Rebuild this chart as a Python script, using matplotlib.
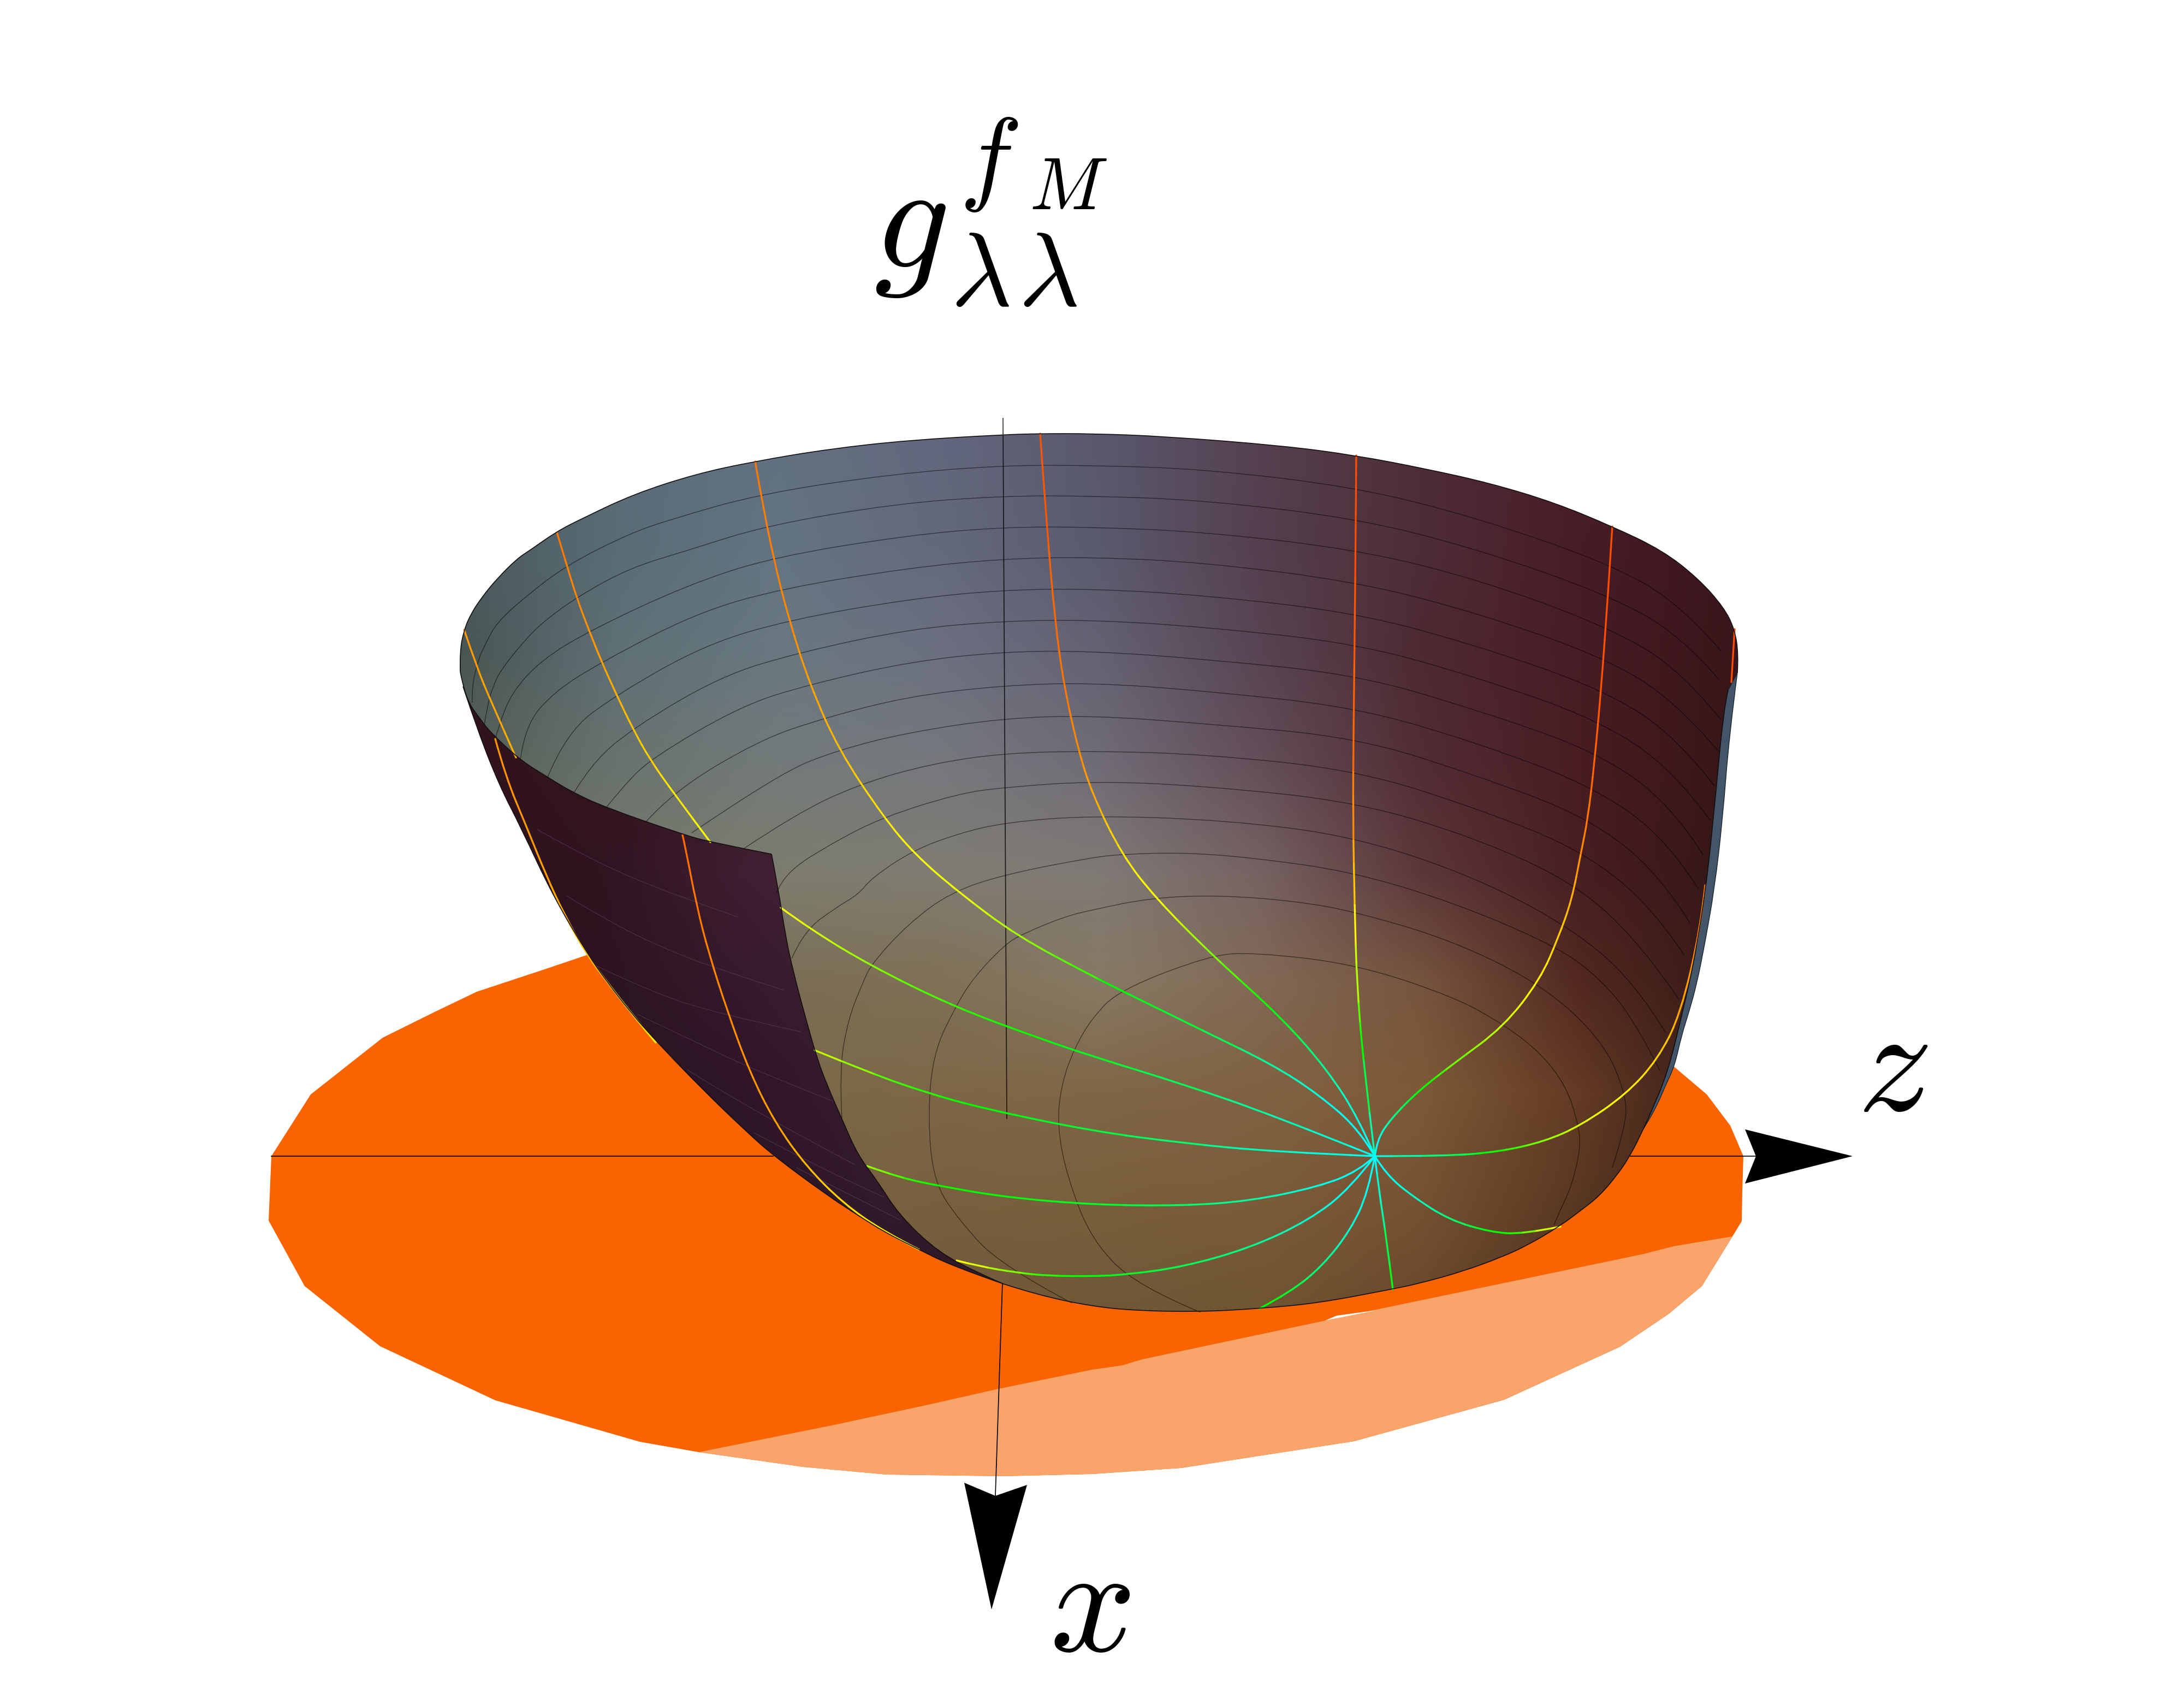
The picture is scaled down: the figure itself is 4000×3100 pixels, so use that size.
import numpy as np
from matplotlib import pyplot as plt
from matplotlib.collections import LineCollection
from matplotlib.colors import hsv_to_rgb
from matplotlib.patches import PathPatch, Polygon
from matplotlib.path import Path

plt.rcParams['mathtext.fontset'] = 'cm'

disc_outline = [(497, 2117), (492, 2235), (558, 2355), (696, 2465), (907, 2564), (1172, 2640), (1280, 2659),
                (1471, 2686), (1624, 2700), (1837, 2703), (2000, 2699), (2163, 2688), (2480, 2639), (2755, 2563),
                (2967, 2466), (3056, 2406), (3117, 2355), (3173, 2264), (3190, 2236), (3191, 2183), (3193, 2117),
                (3169, 2061), (3126, 2004), (3067, 1954), (2900, 1800), (1300, 1700), (1077, 1748), (1000, 1774),
                (873, 1816), (800, 1851), (701, 1900), (569, 2004)]
disc_light = [(1280, 2659), (1533, 2608), (1696, 2573), (1829, 2543), (2000, 2508), (2056, 2500), (2092, 2489),
              (2423, 2419), (2530, 2396), (3011, 2296), (3065, 2282), (3173, 2264), (3117, 2355), (3056, 2406),
              (2967, 2466), (2755, 2563), (2480, 2639), (2163, 2688), (2000, 2699), (1837, 2703), (1624, 2700),
              (1471, 2686)]
disc_gap = [(2427, 2418), (2448, 2409), (2522, 2399)]

arrow_z = [(3196, 2068), (3393, 2117), (3196, 2167), (3216, 2117)]
arrow_x = [(1766, 2715), (1823, 2739), (1881, 2719), (1816, 2947)]
axis_z = [[(497, 2117), (1416, 2117)], [(2986, 2117), (3216, 2117)]]
axis_x = [(1836, 2349), (1823, 2739)]
axis_y = [(1837, 766), (1844, 2048)]

rim = [(843, 1230), (842, 1193), (850, 1153), (863, 1123), (883, 1093), (910, 1060), (947, 1023), (970, 1008),
       (1020, 973), (1065, 950), (1160, 905), (1274, 868), (1381, 845), (1519, 822), (1665, 806), (1837, 796),
       (1905, 794), (2000, 794), (2133, 799), (2348, 816), (2484, 834), (2614, 859), (2730, 885), (2846, 920),
       (2953, 964), (3045, 1008), (3111, 1060), (3157, 1112), (3177, 1152), (3184, 1198), (3182, 1232)]
inner_right = [(3165, 1264), (3157, 1295), (3138, 1500), (3124, 1628), (3108, 1730), (3094, 1800), (3080, 1859),
               (3063, 1930), (3047, 1982), (3027, 2029), (3011, 2065), (2986, 2116), (2960, 2154), (2928, 2191),
               (2897, 2215), (2857, 2245), (2798, 2280), (2750, 2302), (2679, 2328), (2600, 2350), (2547, 2361),
               (2415, 2386), (2307, 2396), (2199, 2402), (2083, 2400), (2000, 2392), (1900, 2371), (1838, 2351)]
flap_right = [(1838, 2351), (1798, 2334), (1718, 2293), (1646, 2224), (1608, 2164), (1571, 2115), (1542, 2049),
              (1517, 1992), (1497, 1940), (1476, 1866), (1453, 1780), (1439, 1716), (1425, 1625), (1413, 1564)]
lip = [(1413, 1564), (1301, 1542), (1251, 1528), (1110, 1479), (1047, 1450), (1003, 1423), (953, 1392), (897, 1340),
       (877, 1313), (860, 1290), (848, 1257), (843, 1230)]
flap_outer = [(1838, 2351), (1746, 2319), (1677, 2285), (1620, 2256), (1574, 2227), (1517, 2190), (1419, 2118),
              (1367, 2072), (1287, 1995), (1207, 1912), (1155, 1854), (1109, 1794), (1077, 1748), (1014, 1643),
              (953, 1513), (915, 1439), (876, 1341), (848, 1257)]
sliver_outer = [(3182, 1232), (3167, 1347), (3155, 1500), (3140, 1628), (3122, 1730), (3108, 1800), (3094, 1851),
                (3080, 1895), (3067, 1952), (3051, 1986), (3031, 2033), (3011, 2065)]

surface_x = [840, 1134, 1428, 1721, 2015, 2309, 2603, 2896, 3190]
surface_y = [800, 1000, 1200, 1400, 1600, 1800, 2000, 2200, 2400]
surface_rgb = [
    [(72, 88, 95), (90, 108, 120), (98, 113, 130), (98, 103, 125), (90, 88, 110), (85, 65, 80), (78, 45, 55), (72, 30, 40), (60, 24, 30)],
    [(72, 88, 92), (90, 108, 118), (100, 116, 130), (100, 105, 125), (90, 90, 110), (85, 63, 78), (78, 45, 55), (72, 28, 38), (58, 22, 28)],
    [(72, 85, 82), (95, 112, 118), (105, 120, 128), (108, 112, 128), (100, 98, 115), (88, 68, 82), (78, 42, 50), (72, 28, 36), (56, 22, 26)],
    [(85, 95, 85), (105, 115, 110), (115, 122, 122), (118, 120, 125), (112, 108, 118), (100, 78, 88), (82, 45, 52), (72, 28, 34), (55, 22, 24)],
    [(100, 105, 90), (118, 120, 105), (125, 125, 110), (128, 125, 115), (128, 122, 118), (118, 98, 98), (92, 55, 58), (72, 30, 33), (52, 22, 22)],
    [(110, 105, 85), (120, 112, 90), (122, 110, 85), (128, 112, 85), (135, 122, 100), (130, 105, 85), (118, 85, 62), (82, 40, 32), (52, 25, 22)],
    [(120, 105, 72), (122, 105, 75), (122, 105, 72), (125, 103, 72), (128, 102, 70), (128, 98, 66), (125, 90, 55), (100, 58, 36), (50, 28, 22)],
    [(118, 100, 70), (120, 100, 68), (118, 98, 65), (120, 96, 62), (122, 95, 60), (122, 92, 58), (118, 82, 50), (88, 55, 32), (50, 28, 22)],
    [(112, 92, 62), (112, 92, 60), (112, 92, 60), (112, 90, 58), (112, 88, 55), (112, 85, 50), (104, 72, 42), (75, 48, 30), (50, 28, 22)],
]
flap_x = [850, 1100, 1350, 1600, 1850]
flap_y = [1250, 1600, 1950, 2300]
flap_rgb = [
    [(50, 20, 30), (55, 22, 32), (60, 25, 38), (65, 30, 45), (65, 30, 45)],
    [(45, 18, 28), (48, 20, 32), (62, 30, 48), (70, 38, 58), (70, 38, 58)],
    [(42, 20, 30), (42, 20, 32), (48, 22, 40), (58, 28, 50), (58, 28, 50)],
    [(40, 22, 30), (40, 22, 30), (42, 20, 32), (48, 24, 42), (50, 28, 40)],
]

rings = [
    [(865, 1287), (864, 1260), (875, 1210), (890, 1177), (910, 1140), (957, 1097), (1037, 1035), (1153, 977), (1228, 951), (1393, 904), (1634, 868), (1837, 852), (2000, 852), (2207, 859), (2484, 892), (2705, 948), (2945, 1031), (3078, 1106), (3152, 1192)],
    [(887, 1327), (893, 1290), (902, 1260), (915, 1230), (957, 1177), (993, 1140), (1057, 1093), (1153, 1040), (1259, 1008), (1404, 962), (1642, 922), (1837, 908), (2000, 908), (2207, 916), (2484, 949), (2705, 1005), (2945, 1089), (3078, 1163), (3148, 1244)],
    [(907, 1353), (915, 1324), (938, 1267), (991, 1209), (1079, 1155), (1259, 1071), (1416, 1020), (1664, 980), (1837, 965), (2000, 965), (2207, 974), (2484, 1006), (2705, 1060), (2941, 1146), (3078, 1226), (3152, 1318)],
    [(953, 1392), (961, 1330), (1014, 1267), (1102, 1212), (1274, 1123), (1429, 1078), (1664, 1040), (1837, 1023), (2000, 1020), (2207, 1030), (2484, 1065), (2705, 1122), (2937, 1203), (3069, 1284), (3148, 1376)],
    [(1003, 1423), (1037, 1341), (1129, 1272), (1290, 1181), (1445, 1135), (1664, 1097), (1837, 1080), (2000, 1078), (2207, 1090), (2484, 1122), (2705, 1182), (2933, 1261), (3069, 1347), (3140, 1439)],
    [(1052, 1450), (1083, 1399), (1156, 1335), (1320, 1238), (1462, 1195), (1664, 1152), (1837, 1137), (2000, 1135), (2207, 1148), (2484, 1178), (2705, 1240), (2928, 1318), (3065, 1410), (3132, 1502)],
    [(1110, 1479), (1137, 1445), (1190, 1390), (1358, 1292), (1483, 1253), (1664, 1212), (1837, 1193), (2000, 1192), (2207, 1207), (2484, 1235), (2705, 1300), (2924, 1376), (3061, 1473), (3119, 1565)],
    [(1183, 1505), (1232, 1450), (1389, 1356), (1508, 1315), (1664, 1275), (1837, 1255), (2000, 1250), (2207, 1265), (2484, 1295), (2705, 1360), (2916, 1439), (3053, 1536), (3111, 1628)],
    [(1267, 1525), (1427, 1416), (1536, 1373), (1664, 1341), (1837, 1315), (2000, 1310), (2207, 1325), (2484, 1350), (2705, 1420), (2908, 1496), (3040, 1600), (3095, 1690)],
    [(1362, 1554), (1458, 1490), (1573, 1436), (1703, 1399), (1837, 1379), (2000, 1375), (2207, 1381), (2484, 1410), (2705, 1480), (2900, 1558), (3030, 1665), (3085, 1750)],
    [(1423, 1634), (1435, 1600), (1527, 1542), (1618, 1496), (1756, 1453), (1837, 1442), (2000, 1430), (2207, 1439), (2484, 1468), (2705, 1535), (2890, 1620), (3010, 1735), (3075, 1830)],
    [(1450, 1755), (1473, 1704), (1534, 1660), (1573, 1637), (1596, 1608), (1672, 1557), (1756, 1526), (1840, 1506), (2000, 1493), (2249, 1502), (2478, 1531), (2700, 1605), (2880, 1700), (2995, 1800), (3050, 1890)],
    [(1542, 2049), (1537, 1959), (1554, 1864), (1580, 1800), (1596, 1765), (1664, 1691), (1741, 1634), (1840, 1601), (2000, 1570), (2058, 1564), (2166, 1561), (2290, 1570), (2477, 1596), (2663, 1653), (2829, 1723), (2912, 1774), (2990, 1860), (3040, 1960)],
    [(1963, 2386), (1833, 2317), (1756, 2234), (1710, 2164), (1699, 2042), (1710, 1927), (1749, 1845), (1783, 1790), (1840, 1730), (1871, 1711), (1948, 1679), (2000, 1666), (2108, 1644), (2232, 1639), (2373, 1650), (2481, 1669), (2663, 1723), (2829, 1806), (2937, 1908), (2978, 2004), (2978, 2061), (2953, 2138)],
    [(2199, 2403), (2083, 2355), (2000, 2272), (1955, 2157), (1936, 2061), (1944, 1985), (1967, 1921), (2000, 1864), (2050, 1813), (2216, 1749), (2298, 1744), (2481, 1765), (2663, 1825), (2754, 1876), (2821, 1927), (2870, 1991), (2891, 2061), (2895, 2100), (2879, 2170), (2858, 2215), (2846, 2243)],
]
flap_rings = [
    [(984, 1519), (1052, 1557), (1144, 1602), (1259, 1647), (1351, 1679)],
    [(1037, 1640), (1121, 1691), (1228, 1742), (1335, 1781), (1435, 1813)],
    [(1091, 1768), (1198, 1819), (1320, 1857), (1466, 1889)],
    [(1167, 1857), (1274, 1908), (1381, 1959), (1527, 2017)],
    [(1259, 1959), (1381, 2036), (1565, 2132)],
    [(1381, 2074), (1511, 2144), (1619, 2192)],
    [(1458, 2138), (1649, 2234)],
]

# meridians: points and the hue (degrees) seen at each point
meridians = [
    ([(850, 1153), (873, 1221), (899, 1284), (945, 1387)], [36, 37, 39, 42]),
    ([(1020, 975), (1037, 1031), (1056, 1094), (1079, 1155), (1102, 1212), (1129, 1272), (1160, 1336), (1190, 1390), (1232, 1450), (1301, 1542)], [28, 30, 32, 35, 38, 42, 46, 50, 56, 62]),
    ([(1383, 845), (1393, 902), (1416, 1020), (1445, 1135), (1483, 1253), (1536, 1373), (1618, 1496), (1676, 1565), (1756, 1634), (1863, 1714), (2000, 1787), (2054, 1814), (2207, 1889), (2332, 1950), (2415, 2004), (2489, 2068), (2518, 2117)], [28, 30, 30, 33, 38, 45, 55, 60, 65, 85, 115, 125, 140, 160, 175, 180, 180]),
    ([(1905, 794), (1917, 962), (1932, 1135), (1948, 1252), (1974, 1370), (2000, 1453), (2054, 1564), (2116, 1644), (2220, 1749), (2348, 1864), (2431, 1959), (2489, 2049), (2518, 2117)], [20, 22, 25, 28, 33, 40, 55, 62, 95, 130, 160, 175, 180]),
    ([(2484, 834), (2482, 1095), (2479, 1327), (2478, 1500), (2481, 1660), (2485, 1800), (2497, 1947), (2518, 2117)], [18, 20, 25, 35, 58, 85, 140, 180]),
    ([(2953, 964), (2945, 1089), (2933, 1255), (2920, 1399), (2908, 1500), (2895, 1564), (2879, 1647), (2854, 1717), (2821, 1793), (2754, 1880), (2663, 1947), (2597, 1998), (2547, 2049), (2522, 2087), (2518, 2117)], [18, 18, 20, 24, 28, 35, 42, 50, 58, 75, 100, 125, 160, 178, 180]),
    ([(3123, 1621), (3115, 1698), (3078, 1857), (3036, 1940), (2978, 2004), (2895, 2061), (2829, 2090), (2746, 2109), (2647, 2117), (2518, 2117)], [30, 33, 40, 50, 58, 70, 90, 120, 150, 180]),
    ([(3177, 1152), (3171, 1249)], [18, 18]),
    ([(1430, 1662), (1485, 1702), (1594, 1768), (1746, 1843), (1900, 1900), (2000, 1934), (2166, 1985), (2332, 2042), (2518, 2117)], [62, 70, 90, 110, 122, 130, 145, 165, 180]),
    ([(1492, 1923), (1597, 1966), (1697, 2001), (1802, 2030), (2000, 2071), (2166, 2093), (2332, 2109), (2518, 2117)], [75, 100, 115, 122, 135, 150, 170, 180]),
    ([(1588, 2135), (1649, 2157), (1729, 2173), (1840, 2192), (2000, 2206), (2166, 2208), (2290, 2199), (2415, 2173), (2489, 2144), (2518, 2117)], [85, 110, 120, 122, 130, 145, 160, 175, 180, 180]),
    ([(1752, 2308), (1795, 2319), (1861, 2330), (1917, 2336), (2000, 2337), (2062, 2334), (2166, 2320), (2290, 2285), (2398, 2234), (2473, 2176), (2518, 2117)], [60, 75, 95, 115, 125, 130, 140, 155, 170, 178, 180]),
    ([(2307, 2396), (2365, 2365), (2423, 2317), (2473, 2253), (2506, 2183), (2518, 2117)], [120, 135, 155, 170, 178, 180]),
    ([(2551, 2361), (2539, 2266), (2526, 2183), (2518, 2117)], [125, 150, 175, 180]),
    ([(2858, 2246), (2788, 2260), (2730, 2256), (2655, 2234), (2589, 2192), (2539, 2151), (2518, 2117)], [60, 110, 125, 150, 170, 178, 180]),
    ([(1250, 1529), (1255, 1550), (1276, 1659), (1298, 1745), (1333, 1854), (1373, 1963), (1419, 2055), (1476, 2135), (1545, 2204), (1620, 2256), (1683, 2288)], [25, 26, 28, 31, 33, 35, 38, 44, 52, 58, 60]),
    ([(907, 1353), (926, 1422), (964, 1513), (1000, 1602), (1034, 1676), (1077, 1751), (1109, 1794), (1155, 1854), (1201, 1909)], [34, 35, 36, 38, 42, 46, 50, 54, 58]),
]


def smooth(*parts):
    # each part is a run of points used as spline handles; runs are joined by straight lines
    verts, codes = [], []
    for part in parts:
        pts = np.array(part, dtype=float)
        verts.append(pts[0])
        codes.append(Path.LINETO if codes else Path.MOVETO)
        for i in range(1, len(pts) - 1):
            end = pts[i + 1] if i == len(pts) - 2 else (pts[i] + pts[i + 1]) / 2
            verts += [pts[i], end]
            codes += [Path.CURVE3, Path.CURVE3]
        if len(pts) == 2:
            verts.append(pts[1])
            codes.append(Path.LINETO)
    return Path(verts, codes)


def closed(path):
    return Path(np.vstack([path.vertices, path.vertices[:1]]), list(path.codes) + [Path.CLOSEPOLY])


fig = plt.figure(figsize=(10, 7.75), dpi=400)
ax = fig.add_axes([0, 0, 1, 1])
ax.axis('off')

ax.add_patch(Polygon(disc_outline, closed=True, fc='#f96300', ec='none', zorder=1))
ax.add_patch(Polygon(disc_light, closed=True, fc='#f8a46b', ec='none', zorder=2))
ax.add_patch(Polygon(disc_gap, closed=True, fc='white', ec='none', zorder=2))

for seg in axis_z + [axis_x]:
    ax.plot(*zip(*seg), color='black', lw=0.3, zorder=3)
ax.add_patch(Polygon(arrow_z, closed=True, fc='black', ec='none', zorder=3))
ax.add_patch(Polygon(arrow_x, closed=True, fc='black', ec='none', zorder=3))

sliver = closed(smooth(sliver_outer, inner_right[:11][::-1]))
ax.add_patch(PathPatch(sliver, fc='#435568', ec='#1c2530', lw=0.25, zorder=4))

surface_path = closed(smooth(rim, inner_right, flap_right, lip))
dx = (surface_x[1] - surface_x[0]) / 2
dy = (surface_y[1] - surface_y[0]) / 2
im = ax.imshow(np.array(surface_rgb, dtype=np.uint8), interpolation='bilinear', aspect='auto', zorder=5,
               extent=(surface_x[0] - dx, surface_x[-1] + dx, surface_y[-1] + dy, surface_y[0] - dy))
im.set_clip_path(PathPatch(surface_path, transform=ax.transData))

flap_path = closed(smooth(lip[:-1], flap_outer[::-1], flap_right))
dx = (flap_x[1] - flap_x[0]) / 2
dy = (flap_y[1] - flap_y[0]) / 2
im2 = ax.imshow(np.array(flap_rgb, dtype=np.uint8), interpolation='bilinear', aspect='auto', zorder=6,
                extent=(flap_x[0] - dx, flap_x[-1] + dx, flap_y[-1] + dy, flap_y[0] - dy))
im2.set_clip_path(PathPatch(flap_path, transform=ax.transData))

for ring in rings:
    ax.add_patch(PathPatch(smooth(ring), fc='none', ec=(0, 0, 0, 0.5), lw=0.25, zorder=7))
for ring in flap_rings:
    ax.add_patch(PathPatch(smooth(ring), fc='none', ec=(0.34, 0.24, 0.34, 0.6), lw=0.22, zorder=7))

ax.plot(*zip(*axis_y), color='black', lw=0.3, alpha=0.8, zorder=8)

for pts, hues in meridians:
    line = smooth(pts).to_polygons(closed_only=False)[0]
    pts = np.array(pts, dtype=float)
    read = np.r_[0, np.cumsum(np.hypot(*np.diff(pts, axis=0).T))]
    drawn = np.r_[0, np.cumsum(np.hypot(*np.diff(line, axis=0).T))]
    h = np.interp(drawn / drawn[-1], read / read[-1], hues) / 360
    colors = hsv_to_rgb(np.c_[h[:-1], np.ones(len(h) - 1), np.ones(len(h) - 1)])
    segs = np.stack([line[:-1], line[1:]], axis=1)
    ax.add_collection(LineCollection(segs, colors=colors, linewidths=0.6, capstyle='round', zorder=9))

for edge in [rim, inner_right, flap_right, lip, flap_outer]:
    ax.add_patch(PathPatch(smooth(edge), fc='none', ec='#15100f', lw=0.3, zorder=10))

ax.text(1600, 490, r'$g^{\hspace{0.05}f\hspace{0.15}_M}_{\hspace{0.06}\lambda\hspace{0.07}\lambda}$',
        fontsize=49.5, ha='left', va='baseline', zorder=11)
ax.text(1922, 3023, r'$x$', fontsize=50, ha='left', va='baseline', zorder=11)
ax.text(3402, 2033, r'$z$', fontsize=49, ha='left', va='baseline', zorder=11)

ax.set_xlim(0, 4000)
ax.set_ylim(3100, 0)
fig.savefig('out.png', dpi=400)
